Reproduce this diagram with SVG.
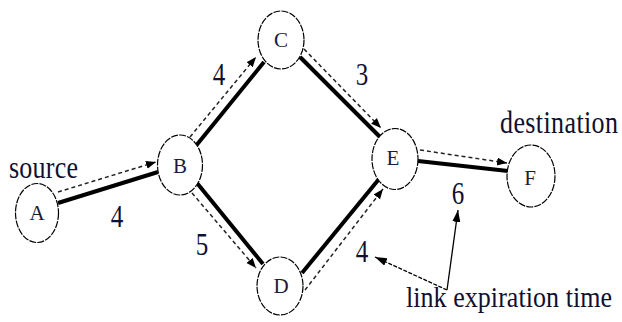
<svg xmlns="http://www.w3.org/2000/svg" width="622" height="322" viewBox="0 0 622 322">
<defs>
<marker id="ah" markerUnits="userSpaceOnUse" markerWidth="12" markerHeight="10" refX="10" refY="4" orient="auto">
<path d="M0,0 L10,4 L0,8 Z" fill="#000"/>
</marker>
<marker id="ah2" markerUnits="userSpaceOnUse" markerWidth="14" markerHeight="10" refX="12" refY="4" orient="auto">
<path d="M0,0 L12,4 L0,8 Z" fill="#000"/>
</marker>
<style>
.node{fill:#fff;stroke:#000;stroke-width:1.2;stroke-dasharray:7 1.2}
.nl{font-family:"Liberation Serif","Times New Roman",serif;font-size:21px;text-anchor:middle;fill:#1a1a3a}
.lbl{font-family:"Liberation Serif","Times New Roman",serif;font-size:26px;fill:#101030}
.num{font-family:"Liberation Serif","Times New Roman",serif;font-size:25px;text-anchor:middle;fill:#101030}
.thick{stroke:#000;stroke-width:4;fill:none}
.dash{stroke:#222;stroke-width:1.5;stroke-dasharray:4 3;fill:none;marker-end:url(#ah)}
.ann{stroke:#000;stroke-width:1.3;fill:none;marker-end:url(#ah2)}
</style>
</defs>
<rect width="622" height="322" fill="#fff"/>
<g id="connectors">
<line class="thick" x1="58" y1="203" x2="158" y2="172"/>
<line class="dash" x1="58" y1="192" x2="156" y2="162"/>
<line class="thick" x1="195" y1="147" x2="264" y2="62"/>
<line class="dash" x1="190" y1="137" x2="256" y2="57"/>
<line class="thick" x1="300" y1="57" x2="380" y2="137"/>
<line class="dash" x1="304" y1="49" x2="381" y2="128"/>
<line class="thick" x1="197" y1="183" x2="263" y2="264"/>
<line class="dash" x1="192" y1="193" x2="256" y2="268"/>
<line class="thick" x1="302" y1="273" x2="379" y2="179"/>
<line class="dash" x1="305" y1="290" x2="383" y2="189"/>
<line class="thick" x1="418" y1="161" x2="508" y2="171"/>
<line class="dash" x1="420" y1="150" x2="507" y2="163"/>
<line class="ann" x1="447" y1="290" x2="458" y2="210"/>
<line class="ann" x1="447" y1="290" x2="375" y2="257" stroke-dasharray="4 1.5"/>
</g>
<g id="node-A"><ellipse class="node" cx="37" cy="213" rx="21.5" ry="29.5"/><text class="nl" x="37" y="220">A</text></g>
<g id="node-B"><ellipse class="node" cx="180" cy="165" rx="22.5" ry="30"/><text class="nl" x="180" y="173">B</text></g>
<g id="node-C"><ellipse class="node" cx="281" cy="40" rx="23" ry="29"/><text class="nl" x="281" y="47">C</text></g>
<g id="node-D"><ellipse class="node" cx="280" cy="286" rx="23" ry="29"/><text class="nl" x="281" y="293">D</text></g>
<g id="node-E"><ellipse class="node" cx="395" cy="159" rx="23" ry="30.5"/><text class="nl" x="393" y="165">E</text></g>
<g id="node-F"><ellipse class="node" cx="531" cy="176" rx="24" ry="31"/><text class="nl" x="530" y="185">F</text></g>
<g id="labels">
<text class="lbl" transform="translate(9,178) scale(1,1.25)" textLength="69">source</text>
<text class="lbl" transform="translate(500,133) scale(1,1.2)" textLength="118">destination</text>
<text class="lbl" transform="translate(406,307) scale(1,1.12)" textLength="206" font-size="25">link expiration time</text>
<text class="num" transform="translate(117,227) scale(1,1.3)">4</text>
<text class="num" transform="translate(219,85) scale(1,1.3)">4</text>
<text class="num" transform="translate(362,85) scale(1,1.3)">3</text>
<text class="num" transform="translate(202,255) scale(1,1.3)">5</text>
<text class="num" transform="translate(362,262) scale(1,1.3)">4</text>
<text class="num" transform="translate(458,204) scale(1,1.3)">6</text>
</g>
</svg>
